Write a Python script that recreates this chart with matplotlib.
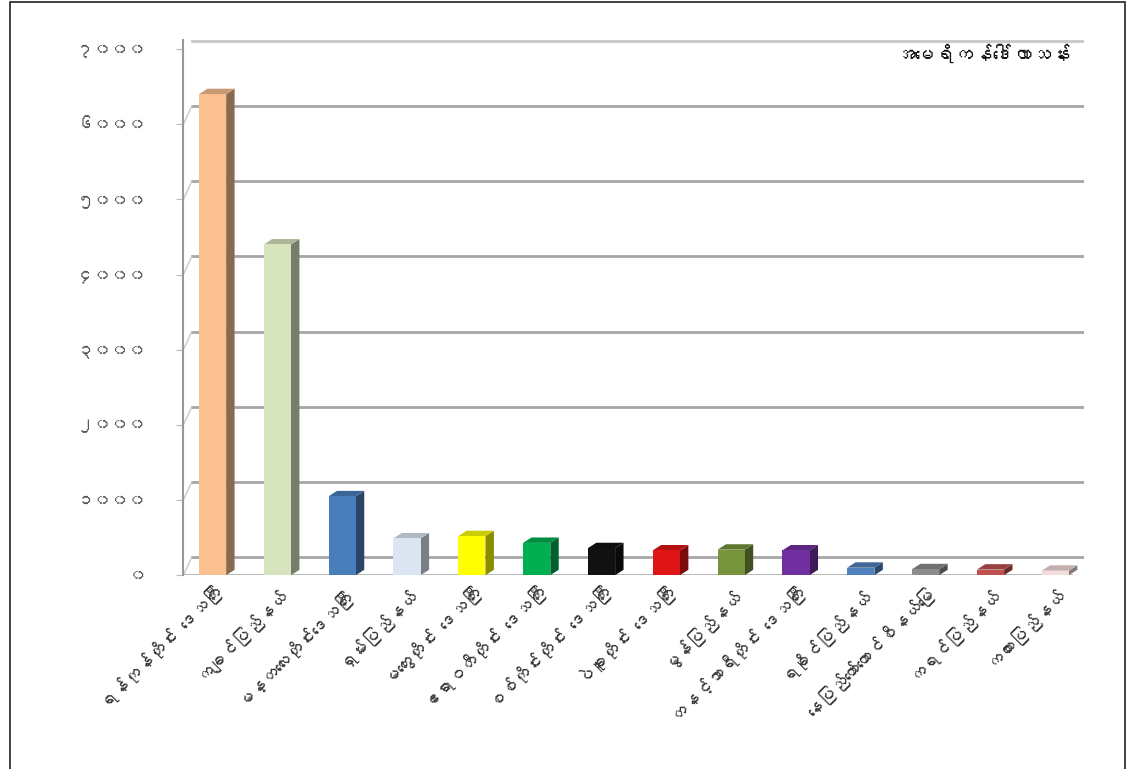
import matplotlib
matplotlib.use("Agg")
import matplotlib.pyplot as plt
from matplotlib import font_manager
from matplotlib.ft2font import FT2Font
from matplotlib.patches import Polygon, Rectangle
from matplotlib.colors import to_rgb

# ---------- data ----------
categories = [
    "ရန်ကုန်တိုင်း ဒေသကြီး",
    "ကချင်ပြည်နယ်",
    "မန္တလေးတိုင်းဒေသကြီး",
    "ရှမ်းပြည်နယ်",
    "မကွေးတိုင်း ဒေသကြီး",
    "ဧရာဝတီတိုင်း ဒေသကြီး",
    "စစ်ကိုင်းတိုင်း ဒေသကြီး",
    "ပဲခူးတိုင်း ဒေသကြီး",
    "မွန်ပြည်နယ်",
    "တနင်္သာရီတိုင်း ဒေသကြီး",
    "ရခိုင်ပြည်နယ်",
    "နေပြည်တော်ကောင်စီနယ်မြေ",
    "ကရင်ပြည်နယ်",
    "ကယားပြည်နယ်",
]
values = [6400, 4400, 1050, 490, 520, 430, 360, 330, 340, 330, 100, 80, 75, 60]
bar_colors = [
    "#FAC090", "#D7E4BD", "#4A7EBB", "#DCE6F2", "#FFFF00", "#00B050", "#111111",
    "#E01515", "#77933C", "#7030A0", "#4F81BD", "#8C8C8C", "#C0504D", "#F2DCDB",
]
y_ticks = [0, 1000, 2000, 3000, 4000, 5000, 6000, 7000]
y_tick_labels = ["၀", "၁၀၀၀", "၂၀၀၀", "၃၀၀၀", "၄၀၀၀", "၅၀၀၀", "၆၀၀၀", "၇၀၀၀"]
unit_label = "အမေရိကန်ဒေါ်လာသန်း"

# ---------- style ----------
BAR_W = 0.42
DEPTH_X = 0.13      # 3-D depth, category units
DEPTH_Y = 240       # 3-D depth of the back wall, value units
GRID_COLOR = "#A6A6A6"


def _myanmar_family():
    """First installed family that has Myanmar glyphs, if any."""
    for f in font_manager.fontManager.ttflist:
        try:
            if 0x1000 in FT2Font(f.fname).get_charmap():
                return f.name
        except Exception:
            continue
    return None


mm = _myanmar_family()
families = [mm, "DejaVu Sans"] if mm else ["DejaVu Sans"]
plt.rcParams["font.family"] = families


def _shade(color, k):
    r, g, b = to_rgb(color)
    return (r * k, g * k, b * k)


fig = plt.figure(figsize=(11.32, 7.69), dpi=100)
fig.patch.set_facecolor("white")
fig.add_artist(Rectangle((0.009, -0.01), 0.985, 1.007, transform=fig.transFigure,
                         fill=False, edgecolor="#222222", linewidth=1.2))

ax = fig.add_axes([0.162, 0.252, 0.796, 0.696])
n = len(values)
xs = list(range(n))
ax.set_xlim(-0.45, n - 0.55)
ax.set_ylim(0, 7000 + DEPTH_Y * 0.5)

# back-wall grid lines, shifted by the depth offset
for t in y_ticks[:-1]:
    ax.plot([-0.45 + DEPTH_X, n - 0.55], [t + DEPTH_Y, t + DEPTH_Y],
            color=GRID_COLOR, linewidth=2.0, zorder=1)
    ax.plot([-0.45, -0.45 + DEPTH_X], [t, t + DEPTH_Y],
            color="#C8C8C8", linewidth=1.0, zorder=1)
ax.plot([-0.45 + DEPTH_X, n - 0.55], [7000 + DEPTH_Y * 0.45] * 2,
        color="#C8C8C8", linewidth=2.0, zorder=1)
# floor front edge
ax.plot([-0.45, n - 0.75], [0, 0], color="#B0B0B0", linewidth=2.0, zorder=2)

# front faces
ax.bar(xs, values, width=BAR_W, color=bar_colors, edgecolor="none", zorder=4)
# side and top faces for the 3-D look
for x, v, c in zip(xs, values, bar_colors):
    right = x + BAR_W / 2
    left = x - BAR_W / 2
    side = [(right, 0), (right + DEPTH_X, DEPTH_Y * 0.3),
            (right + DEPTH_X, v + DEPTH_Y * 0.3), (right, v)]
    top = [(left, v), (right, v), (right + DEPTH_X, v + DEPTH_Y * 0.3),
           (left + DEPTH_X, v + DEPTH_Y * 0.3)]
    ax.add_patch(Polygon(side, closed=True, facecolor=_shade(c, 0.55),
                         edgecolor="none", zorder=3))
    ax.add_patch(Polygon(top, closed=True, facecolor=_shade(c, 0.8),
                         edgecolor="none", zorder=3))

ax.set_yticks(y_ticks)
ax.set_yticklabels(y_tick_labels, fontsize=12.5, color="#555555")
ax.set_xticks(xs)
ax.set_xticklabels(categories, rotation=45, ha="right", rotation_mode="anchor",
                   fontsize=12.5, color="#333333")
ax.tick_params(axis="y", length=5, color="#BBBBBB", pad=22)
ax.tick_params(axis="x", length=0, pad=6)

for side in ("top", "right", "bottom"):
    ax.spines[side].set_visible(False)
ax.spines["left"].set_color("#999999")
ax.spines["left"].set_linewidth(1.5)

ax.text(0.985, 0.975, unit_label, transform=ax.transAxes, ha="right", va="center",
        fontsize=14, fontweight="bold", color="#111111")

fig.savefig("out.png", dpi=100, facecolor="white")
